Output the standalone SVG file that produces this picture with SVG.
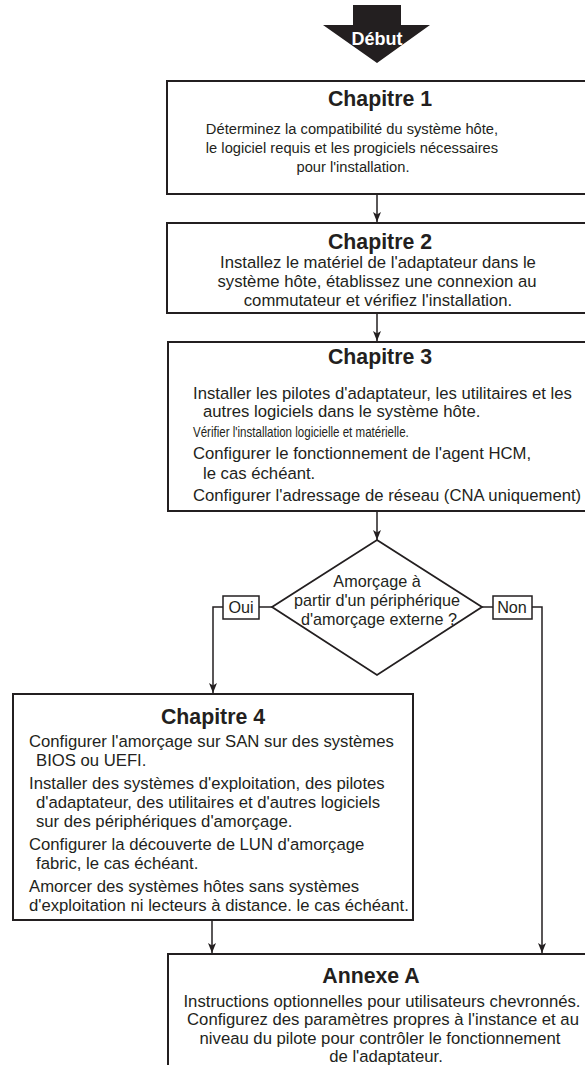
<svg xmlns="http://www.w3.org/2000/svg" width="585" height="1065" viewBox="0 0 585 1065">
<defs>
<style>
.box{fill:#fff;stroke:#231f20;stroke-width:2}
.lbl{fill:#fff;stroke:#231f20;stroke-width:1.5}
.ln{fill:none;stroke:#231f20;stroke-width:1.5}
.t{font-family:"Liberation Sans",Arial,sans-serif;font-size:16.7px;fill:#231f20}
.s{font-size:14.7px}
.d{font-size:16.2px}
.h{font-family:"Liberation Sans",Arial,sans-serif;font-size:21.3px;font-weight:bold;fill:#231f20;text-anchor:middle}
.c{text-anchor:middle}
</style>
<marker id="ah" viewBox="0 0 10 10" refX="10" refY="5" markerWidth="10" markerHeight="10" markerUnits="userSpaceOnUse" orient="auto">
<path d="M0,1 L10,5 L0,9 L2.5,5 Z" fill="#231f20"/>
</marker>
</defs>
<rect width="585" height="1065" fill="#fff"/>
<g id="connectors">
<line class="ln" x1="377" y1="194" x2="377" y2="222" marker-end="url(#ah)"/>
<line class="ln" x1="377" y1="313" x2="377" y2="341" marker-end="url(#ah)"/>
<line class="ln" x1="377" y1="511" x2="377" y2="540" marker-end="url(#ah)"/>
<line class="ln" x1="272" y1="607" x2="259" y2="607"/>
<polyline class="ln" points="223,607 213,607 213,693" marker-end="url(#ah)"/>
<line class="ln" x1="482" y1="607" x2="493" y2="607"/>
<polyline class="ln" points="532,607 542,607 542,953" marker-end="url(#ah)"/>
<line class="ln" x1="212" y1="920" x2="212" y2="953" marker-end="url(#ah)"/>
<rect class="lbl" x="223" y="596" width="36" height="23"/>
<text class="t d c" x="241" y="613">Oui</text>
<rect class="lbl" x="493" y="596" width="39" height="23"/>
<text class="t d c" x="512" y="613">Non</text>
</g>
<g id="debut">
<path d="M353,5 H401 V25 H430 L377,63 L323,25 H353 Z" fill="#231f20"/>
<text x="377" y="45" font-family="'Liberation Sans',Arial,sans-serif" font-size="18" font-weight="bold" fill="#fff" text-anchor="middle">Début</text>
</g>
<g id="ch1">
<rect class="box" x="167" y="81" width="430" height="113"/>
<text class="h" x="380" y="106">Chapitre 1</text>
<text class="t s c" x="352" y="134">Déterminez la compatibilité du système hôte,</text>
<text class="t s c" x="352" y="153">le logiciel requis et les progiciels nécessaires</text>
<text class="t s c" x="353" y="172">pour l'installation.</text>
</g>
<g id="ch2">
<rect class="box" x="167" y="223" width="430" height="90"/>
<text class="h" x="380" y="249">Chapitre 2</text>
<text class="t c" x="378" y="268">Installez le matériel de l'adaptateur dans le</text>
<text class="t c" x="377" y="287">système hôte, établissez une connexion au</text>
<text class="t c" x="378" y="306">commutateur et vérifiez l'installation.</text>
</g>
<g id="ch3">
<rect class="box" x="168" y="342" width="430" height="169"/>
<text class="h" x="380" y="364">Chapitre 3</text>
<text class="t" x="193" y="399">Installer les pilotes d'adaptateur, les utilitaires et les</text>
<text class="t" x="203" y="417">autres logiciels dans le système hôte.</text>
<text class="t" transform="translate(193,437) scale(0.78,1)" x="0" y="0" style="font-size:14.8px">Vérifier l'installation logicielle et matérielle.</text>
<text class="t" x="193" y="459">Configurer le fonctionnement de l'agent HCM,</text>
<text class="t" x="203" y="479">le cas échéant.</text>
<text class="t" x="193" y="501">Configurer l'adressage de réseau (CNA uniquement)</text>
</g>
<g id="decision">
<polygon class="box" points="377,540 482,607 377,675 272,607" style="stroke-width:1.8"/>
<text class="t d c" x="377" y="587">Amorçage à</text>
<text class="t d c" x="377" y="606">partir d'un périphérique</text>
<text class="t d c" x="379" y="625">d'amorçage externe ?</text>
</g>
<g id="ch4">
<rect class="box" x="13" y="694" width="400" height="226"/>
<text class="h" x="213" y="724">Chapitre 4</text>
<text class="t" x="29" y="747">Configurer l'amorçage sur SAN sur des systèmes</text>
<text class="t" x="36" y="766">BIOS ou UEFI.</text>
<text class="t" x="29" y="789">Installer des systèmes d'exploitation, des pilotes</text>
<text class="t" x="36" y="808">d'adaptateur, des utilitaires et d'autres logiciels</text>
<text class="t" x="36" y="827">sur des périphériques d'amorçage.</text>
<text class="t" x="29" y="850">Configurer la découverte de LUN d'amorçage</text>
<text class="t" x="36" y="869">fabric, le cas échéant.</text>
<text class="t" x="29" y="892">Amorcer des systèmes hôtes sans systèmes</text>
<text class="t" x="29" y="911">d'exploitation ni lecteurs à distance. le cas échéant.</text>
</g>
<g id="annexeA">
<rect class="box" x="168" y="954" width="430" height="130"/>
<text class="h" x="371" y="983">Annexe A</text>
<text class="t c" x="382" y="1007">Instructions optionnelles pour utilisateurs chevronnés.</text>
<text class="t c" x="383" y="1025">Configurez des paramètres propres à l'instance et au</text>
<text class="t c" x="380" y="1044">niveau du pilote pour contrôler le fonctionnement</text>
<text class="t c" x="386" y="1062">de l'adaptateur.</text>
</g>
</svg>
